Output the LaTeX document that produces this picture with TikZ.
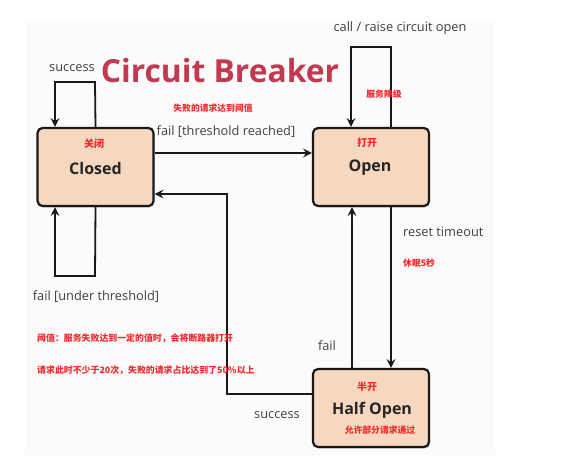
\documentclass[tikz,border=0pt]{standalone}
\usepackage{fontspec}
\setmainfont{Open Sans}
\newfontfamily\cjk{Noto Sans CJK SC}
\usetikzlibrary{arrows.meta,shadows}
\definecolor{boxfill}{HTML}{F6D7BF}
\definecolor{lbl}{HTML}{404040}
\definecolor{cnred}{HTML}{F22A2E}
\definecolor{title}{HTML}{C23A50}
\definecolor{panel}{HTML}{FBFBFB}
\tikzset{
  state/.style={draw=black!90,line width=2.2pt,rounded corners=5pt,fill=boxfill,
    minimum width=116pt,minimum height=78pt,inner sep=0pt,
    drop shadow={shadow xshift=1pt,shadow yshift=-1.5pt,opacity=0.35}},
  conn/.style={draw=black!90,line width=1.8pt,-{Stealth[length=9pt,width=9pt,inset=3.5pt]}},
  lab/.style={text=lbl,font=\fontsize{12.8}{15}\selectfont,inner sep=0pt},
  cn/.style={text=cnred,font=\cjk\bfseries\fontsize{8.8}{10}\selectfont,inner sep=0pt},
  cnbox/.style={text=cnred,font=\cjk\bfseries\fontsize{10}{12}\selectfont,inner sep=0pt},
  big/.style={font=\bfseries\fontsize{16}{18}\selectfont,text=black!85,inner sep=0pt}
}
\begin{document}
\begin{tikzpicture}[x=1pt,y=-1pt]
\useasboundingbox (0,0) rectangle (562,476);
\fill[panel] (25,20) rectangle (495,455);

\node[state] (closed) at (95.5,167) {};
\node[state] (open) at (371,167) {};
\node[state] (half) at (371,408) {};

\node[cnbox] (zhclosed) at (94,144) {关闭};
\node[big] (tclosed) at (95.5,168) {Closed};
\node[cnbox] (zhopen) at (367,143) {打开};
\node[big] (topen) at (370,168) {Open};
\node[cnbox] (zhhalf) at (367,387) {半开};
\node[big] (thalf) at (372,410) {Half Open};
\node[cn] (zhallow) at (380,430) {允许部分请求通过};

\node[text=title,font=\bfseries\fontsize{31.8}{34}\selectfont,inner sep=0pt] (title) at (220,71) {Circuit Breaker};

% closed top loop
\coordinate (ctr) at (95,82);
\coordinate (ctl) at (55,82);
\draw[conn] (closed.north) -- (ctr) -- (ctl) -- (closed.north -| ctl);
\node[lab] (lsuccess1) at (72,68) {success};

% closed bottom loop
\coordinate (cbr) at (95,276);
\coordinate (cbl) at (55,276);
\draw[conn] (closed.south) -- (cbr) -- (cbl) -- (closed.south -| cbl);
\node[lab] (lfailunder) at (96,297) {fail [under threshold]};

% open top loop
\coordinate (otr) at (391,47);
\coordinate (otl) at (351,47);
\draw[conn] (open.north -| otr) -- (otr) -- (otl) -- (open.north -| otl);
\node[lab] (lcall) at (400,28) {call / raise circuit open};
\node[cn] (zhdegrade) at (384,94) {服务降级};

% closed -> open
\draw[conn] ([yshift=14pt]closed.east) -- ([yshift=14pt]open.west);
\node[lab] (lfailreach) at (226,132) {fail [threshold reached]};
\node[cn] (zhreach) at (213,108) {失败的请求达到阈值};

% open -> half
\coordinate (ohx) at (391,300);
\draw[conn] (open.south -| ohx) -- (half.north -| ohx);
\node[lab,anchor=west] (lreset) at (403,232) {reset timeout};
\node[cn,anchor=west] (zhsleep) at (403,263) {休眠5秒};

% half -> open
\coordinate (hox) at (352,300);
\draw[conn] (half.north -| hox) -- (open.south -| hox);
\node[lab] (lfail) at (327,346) {fail};

% half -> closed
\coordinate (hc1) at (227,394);
\coordinate (hc2) at (227,194);
\draw[conn] (half.west |- hc1) -- (hc1) -- (hc2) -- (closed.east |- hc2);
\node[lab] (lsuccess2) at (277,415) {success};

\node[cn,font=\cjk\bfseries\fontsize{8.9}{11}\selectfont,anchor=west] (note1) at (37,338) {阈值：服务失败达到一定的值时，会将断路器打开};
\node[cn,font=\cjk\bfseries\fontsize{8.9}{11}\selectfont,anchor=west] (note2) at (37,370) {请求此时不少于20次，失败的请求占比达到了50\%以上};
\end{tikzpicture}
\end{document}
